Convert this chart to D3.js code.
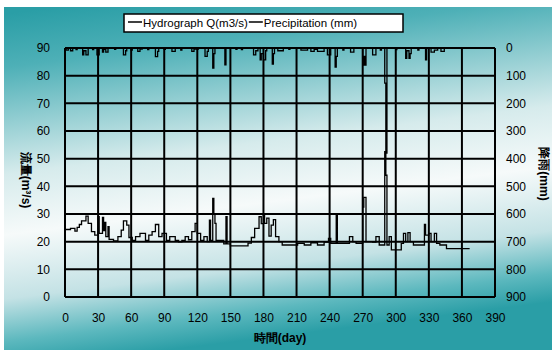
<!DOCTYPE html>
<html>
<head>
<meta charset="utf-8">
<script src="https://cdn.jsdelivr.net/npm/d3@7"></script>
<style>
  body { margin: 0; background: #fff; }
  svg { display: block; }
  text { font-family: "Liberation Sans", Arial, sans-serif; fill: #000; }
</style>
</head>
<body>
<div id="chart"></div>
<script>
// x ticks (days) and the two y axes
var dayTicks = [0, 30, 60, 90, 120, 150, 180, 210, 240, 270, 300, 330, 360, 390];
var flowTicks = [0, 10, 20, 30, 40, 50, 60, 70, 80, 90];
var rainTicks = [0, 100, 200, 300, 400, 500, 600, 700, 800, 900];

// hydrograph as [day, Q] step points
var flowDays = [0, 5, 9, 11, 13, 15, 19, 21, 24, 27, 30, 31, 34, 35, 36, 37, 39, 40, 44, 48, 51, 53, 56, 58, 61, 64, 68, 73, 76, 79, 82, 85, 88, 92, 95, 100, 103, 106, 109, 112, 115, 118, 120, 123, 126, 129, 131, 132, 134, 135, 136, 137, 139, 144, 146, 147, 150, 166, 169, 172, 176, 178, 180, 181, 183, 185, 187, 189, 191, 194, 197, 211, 217, 223, 229, 235, 239, 241, 246, 247, 258, 261, 264, 270, 271, 273, 279, 282, 285, 290, 291, 292, 294, 296, 305, 307, 309, 311, 313, 316, 326, 327, 330, 332, 335, 337, 340, 346, 367];
var flowQ = [24.4, 24.8, 23.8, 25.2, 26.2, 27.5, 29.2, 26.6, 23.6, 22.4, 29, 23, 28.8, 24, 27, 21.8, 25.4, 20.8, 20.3, 21.8, 24.2, 27.5, 26, 21.5, 20.5, 21.8, 23, 20.5, 22.4, 23.6, 26.2, 21.8, 23, 20.5, 21.8, 20.5, 19.9, 20.5, 21.8, 20.7, 23.6, 26.6, 23, 20.5, 21.8, 20, 27.8, 20.5, 35.6, 30, 26.6, 20.5, 20.5, 19.2, 29, 19.2, 18.5, 19.5, 21.5, 24.8, 29, 26.5, 30, 26.6, 28.5, 22, 26, 28, 21.8, 20, 18.8, 19.4, 18.8, 19.6, 18.8, 19.8, 21.2, 19.4, 29.6, 19.4, 21.8, 20, 19.4, 32.5, 36, 20, 19.8, 21.8, 18.8, 52.5, 44, 18.8, 21.8, 17, 19.4, 23, 20, 23.3, 20, 18.8, 26.2, 22.4, 23, 20, 23, 19.4, 18.8, 17.5, 17.5];

// precipitation, [day, mm] step points, hanging from the top
var rainDays = [0, 1, 3, 5, 7, 10, 11, 16, 17, 19, 21, 25, 26, 29, 31, 34, 35, 37, 39, 45, 46, 53, 55, 56, 60, 61, 66, 68, 70, 75, 76, 82, 84, 85, 90, 91, 97, 100, 105, 106, 115, 117, 121, 127, 129, 130, 134, 135, 136, 145, 146, 155, 156, 160, 161, 171, 173, 175, 177, 178, 180, 182, 183, 188, 189, 190, 193, 198, 203, 204, 214, 220, 223, 226, 229, 235, 238, 241, 245, 246, 247, 252, 253, 259, 262, 270, 271, 272, 273, 279, 282, 286, 287, 290, 291, 292, 300, 301, 309, 310, 312, 313, 314, 320, 321, 327, 328, 332, 335, 338, 341, 344, 366];
var rainMm = [0, 8, 0, 10, 0, 6, 0, 25, 10, 25, 0, 6, 0, 25, 0, 15, 5, 15, 0, 5, 0, 25, 10, 0, 8, 0, 12, 4, 0, 6, 0, 31, 12, 0, 5, 0, 12, 0, 8, 0, 12, 4, 0, 30, 12, 0, 73, 20, 0, 61, 0, 5, 0, 6, 0, 25, 10, 0, 43, 20, 43, 10, 0, 58, 20, 0, 10, 0, 5, 0, 8, 0, 12, 5, 12, 0, 25, 0, 69, 30, 0, 8, 0, 15, 0, 62, 30, 62, 0, 25, 0, 8, 0, 127, 380, 0, 6, 0, 37, 10, 37, 20, 0, 8, 0, 43, 0, 15, 8, 0, 12, 0, 0];

var W = 556, H = 352;
var margin = {top: 48, right: 61, bottom: 55, left: 65};

var svg = d3.select("#chart").append("svg")
  .attr("width", W).attr("height", H);

// teal backdrop fading to white
var grad = svg.append("defs").append("linearGradient")
  .attr("id", "bg").attr("x1", "0.1").attr("y1", "0").attr("x2", "0.3").attr("y2", "1");
[[0, "#2a9ea6"], [0.15, "#4eb0b7"], [0.45, "#d6ebec"], [0.62, "#f6fafa"], [0.8, "#c4e2e5"], [0.92, "#5cb8be"], [1, "#2a9ea6"]]
  .forEach(function(s) { grad.append("stop").attr("offset", s[0]).attr("stop-color", s[1]); });

svg.append("rect")
  .attr("x", 4).attr("y", 7).attr("width", 548).attr("height", 343)
  .attr("fill", "url(#bg)");

var x = d3.scaleLinear().domain([0, 390]).range([margin.left, W - margin.right]);
var yQ = d3.scaleLinear().domain([0, 90]).range([H - margin.bottom, margin.top]);
var yP = d3.scaleLinear().domain([0, 900]).range([margin.top, H - margin.bottom]);

// grid
var g = svg.append("g");
g.selectAll(".vg").data(dayTicks).enter().append("line")
  .attr("x1", d => x(d)).attr("x2", d => x(d))
  .attr("y1", yQ(0)).attr("y2", yQ(90))
  .attr("stroke", "#000").attr("stroke-width", 2);
g.selectAll(".hg").data(flowTicks).enter().append("line")
  .attr("x1", x(0)).attr("x2", x(390))
  .attr("y1", d => yQ(d)).attr("y2", d => yQ(d))
  .attr("stroke", "#000").attr("stroke-width", 2);

// axes, labels only
var axB = svg.append("g")
  .attr("transform", "translate(0," + (yQ(0) + 13) + ")")
  .call(d3.axisBottom(x).tickValues(dayTicks).tickSize(0));
var axL = svg.append("g")
  .attr("transform", "translate(" + (x(0) - 12) + ",0)")
  .call(d3.axisLeft(yQ).tickValues(flowTicks).tickSize(0));
var axR = svg.append("g")
  .attr("transform", "translate(" + (x(390) + 8) + ",0)")
  .call(d3.axisRight(yP).tickValues(rainTicks).tickSize(0));
[axB, axL, axR].forEach(function(a) {
  a.select(".domain").remove();
  a.selectAll("text").style("font-size", "12px").style("font-family", "Liberation Sans, Arial, sans-serif");
});

// series
var flowLine = d3.line().x(d => x(d[0])).y(d => yQ(d[1])).curve(d3.curveStepAfter);
var rainLine = d3.line().x(d => x(d[0])).y(d => yP(d[1])).curve(d3.curveStepAfter);

svg.append("path")
  .datum(rainDays.map((d, i) => [d, rainMm[i]]))
  .attr("d", rainLine)
  .attr("fill", "none").attr("stroke", "#000").attr("stroke-width", 1.3);

svg.append("path")
  .datum(flowDays.map((d, i) => [d, flowQ[i]]))
  .attr("d", flowLine)
  .attr("fill", "none").attr("stroke", "#000").attr("stroke-width", 1.3);

// axis titles
svg.append("text")
  .attr("transform", "translate(22,180) rotate(90)")
  .attr("text-anchor", "middle").style("font-size", "12px").style("font-weight", "bold")
  .text("流量(m³/s)");
svg.append("text")
  .attr("transform", "translate(540,174) rotate(90)")
  .attr("text-anchor", "middle").style("font-size", "12px").style("font-weight", "bold")
  .text("降雨(mm)");
svg.append("text")
  .attr("x", 280).attr("y", 342)
  .attr("text-anchor", "middle").style("font-size", "12px").style("font-weight", "bold")
  .text("時間(day)");

// legend
var leg = svg.append("g");
leg.append("rect")
  .attr("x", 124).attr("y", 14).attr("width", 279).attr("height", 18)
  .attr("fill", "#fff").attr("stroke", "#000").attr("stroke-width", 1.5);
var items = ["Hydrograph Q(m3/s)", "Precipitation (mm)"];
var lx = 128;
items.forEach(function(name) {
  leg.append("line")
    .attr("x1", lx).attr("x2", lx + 14).attr("y1", 22).attr("y2", 22)
    .attr("stroke", "#000").attr("stroke-width", 1.5);
  var t = leg.append("text")
    .attr("x", lx + 15).attr("y", 27)
    .style("font-size", "11.5px")
    .text(name);
  lx += 15 + t.node().getComputedTextLength() + 1;
});
</script>
</body>
</html>
